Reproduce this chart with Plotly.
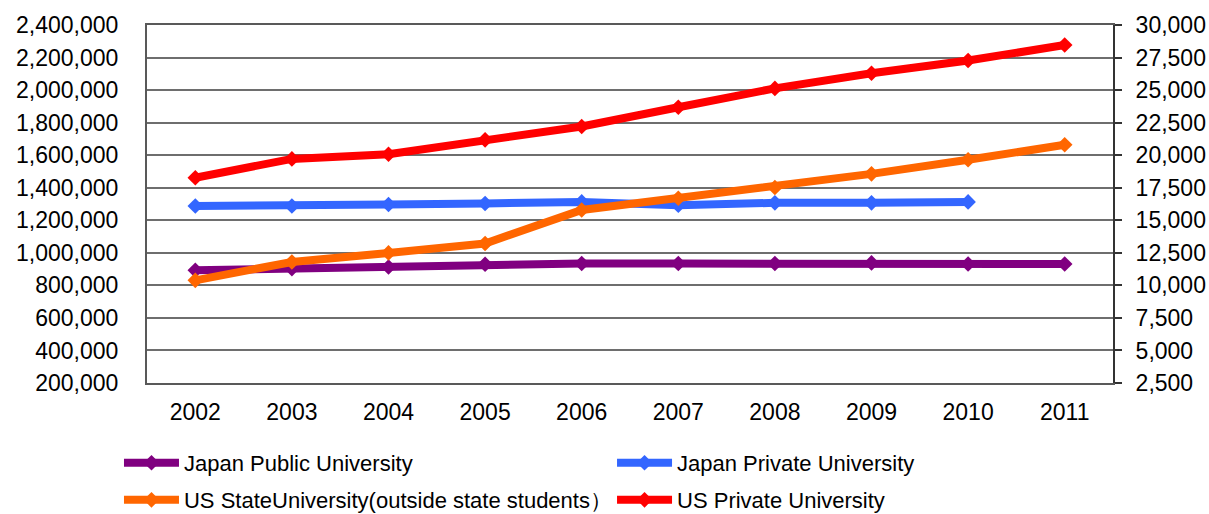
import plotly.graph_objects as go

years = ["2002", "2003", "2004", "2005", "2006", "2007", "2008", "2009", "2010", "2011"]

japan_public = [893000, 903000, 913000, 930000, 934000, 934000, 934000, 938000, 931000, 931000]
japan_private = [1288000, 1288000, 1297000, 1303000, 1313000, 1293000, 1307000, 1307000, 1313000, None]
us_state_outside = [10386, 11798, 12492, 13217, 15787, 16690, 17523, 18565, 19645, 20802]
us_private = [18270, 19715, 20077, 21177, 22200, 23680, 25130, 26290, 27270, 28460]

left_ticks = list(range(200000, 2400001, 200000))
right_ticks = list(range(2500, 30001, 2500))

FONT = "Liberation Sans, Arial, sans-serif"

fig = go.Figure()

def add(name, y, color, axis, legend):
    fig.add_trace(go.Scatter(
        x=years, y=y, name=name, mode="lines+markers",
        line=dict(color=color, width=8),
        marker=dict(symbol="diamond", size=12, color=color),
        yaxis=axis, legend=legend, connectgaps=False,
    ))

add("Japan Public University", japan_public, "#800080", "y", "legend")
add("Japan Private University", japan_private, "#3366FF", "y", "legend2")
add("US StateUniversity(outside state students）", us_state_outside, "#FF6600", "y2", "legend3")
add("US Private University", us_private, "#FF0000", "y2", "legend4")

def leg(x, y):
    return dict(
        x=x, y=y, xanchor="left", yanchor="middle",
        font=dict(family=FONT, size=22, color="#000"),
        bgcolor="rgba(0,0,0,0)", itemwidth=55, borderwidth=0,
    )

fig.update_layout(
    width=1209, height=514,
    margin=dict(l=147, r=96, t=25, b=131, autoexpand=False),
    paper_bgcolor="white", plot_bgcolor="white",
    font=dict(family=FONT, size=23, color="#000"),
    showlegend=True,
    legend=leg(-0.029, -0.2235),
    legend2=leg(0.4814, -0.2235),
    legend3=leg(-0.029, -0.327),
    legend4=leg(0.4814, -0.327),
    xaxis=dict(
        type="category", range=[-0.5, 9.5],
        showgrid=False, ticks="", showline=True, linecolor="#595959", linewidth=2,
        mirror=True, tickfont=dict(family=FONT, size=23), ticklabelstandoff=7,
    ),
    yaxis=dict(
        range=[200000, 2400000], tickvals=left_ticks, tickformat=",",
        showgrid=True, gridcolor="#6e6e6e", gridwidth=1.5,
        showline=True, linecolor="#595959", linewidth=2, ticks="",
        tickfont=dict(family=FONT, size=23), ticklabelstandoff=22, zeroline=False,
    ),
    yaxis2=dict(
        range=[2500, 30000], tickvals=right_ticks, tickformat=",",
        overlaying="y", side="right", showgrid=False,
        showline=True, linecolor="#333333", linewidth=2,
        ticks="outside", ticklen=7, tickcolor="#333333", tickwidth=1.5,
        tickfont=dict(family=FONT, size=23), ticklabelstandoff=9, zeroline=False,
    ),
)

fig.write_html(
    "out.html",
    config={"displayModeBar": False},
    post_script="document.body.style.margin='0';document.body.style.overflow='hidden';",
)
